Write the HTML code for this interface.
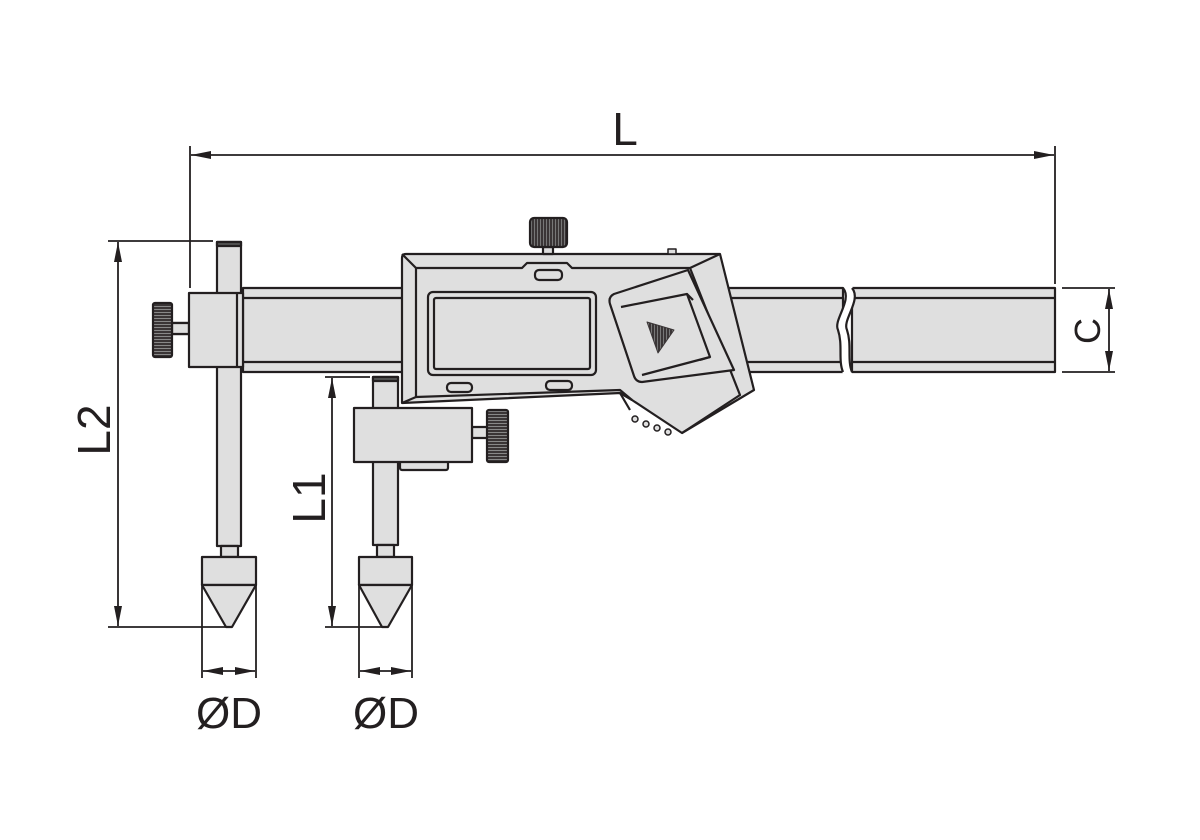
<!DOCTYPE html>
<html><head><meta charset="utf-8"><style>html,body{margin:0;padding:0;background:#fff}svg{display:block}</style></head><body>
<svg width="1200" height="840" viewBox="0 0 1200 840" xmlns="http://www.w3.org/2000/svg">
<defs>
<marker id="a" viewBox="0 0 20 10" refX="20" refY="5" markerWidth="20" markerHeight="10" markerUnits="userSpaceOnUse" orient="auto-start-reverse"><path d="M0,1 L20,5 L0,9 Z" fill="#231f20"/></marker>
<pattern id="kn" width="3" height="3" patternUnits="userSpaceOnUse"><rect width="3" height="3" fill="#3a3536"/><rect width="1" height="3" fill="#777"/></pattern>
<pattern id="kh" width="3" height="3" patternUnits="userSpaceOnUse"><rect width="3" height="3" fill="#3a3536"/><rect width="3" height="1" fill="#888"/></pattern>
</defs>
<g stroke="#231f20" stroke-width="2.2" fill="#dfdfdf" stroke-linejoin="round">
<!-- beam -->
<rect x="243" y="288" width="600" height="84"/>
<rect x="852" y="288" width="203" height="84"/>
<line x1="243" y1="298" x2="843" y2="298"/><line x1="243" y1="362" x2="843" y2="362"/>
<line x1="852" y1="298" x2="1055" y2="298"/><line x1="852" y1="362" x2="1055" y2="362"/>
<path d="M843,286 C853,300 833,320 838,330 C843,345 838,360 843,374 L852,374 C847,360 852,345 847,330 C842,318 862,300 852,286 Z" fill="#fff" stroke="none"/>
<path d="M843,288 C853,300 833,320 838,330 C843,345 838,360 843,372" fill="none"/>
<path d="M852,288 C862,300 842,320 847,330 C852,345 847,360 852,372" fill="none"/>
<!-- left jaw -->
<rect x="217" y="242" width="24" height="304"/>
<rect x="217" y="242" width="24" height="4" fill="#555"/>
<rect x="221" y="546" width="17" height="11"/>
<rect x="202" y="557" width="54" height="28"/>
<path d="M202,585 L256,585 L232,627 L226,627 Z"/>
<line x1="172" y1="323" x2="189" y2="323"/><line x1="172" y1="334" x2="189" y2="334"/>
<rect x="172" y="323" width="17" height="11"/>
<rect x="153" y="303" width="19" height="54" rx="2" fill="url(#kh)"/>
<rect x="189" y="293" width="54" height="74"/>
<line x1="237" y1="293" x2="237" y2="367"/>
<!-- right jaw -->
<rect x="373" y="377" width="25" height="168"/>
<rect x="373" y="377" width="25" height="4" fill="#555"/>
<rect x="377" y="545" width="17" height="12"/>
<rect x="359" y="557" width="53" height="28"/>
<path d="M359,585 L412,585 L388,627 L382,627 Z"/>
<!-- body -->
<path d="M402,258 Q402,254 406,254 L720,254 L754,390 L682,433 L632,400 L620,393 L402,403 Z"/>
<path d="M416,268 L522,268 L527,263 L567,263 L572,268 L690,268 L720,254" fill="none"/>
<line x1="402" y1="254" x2="416" y2="268"/><line x1="402" y1="403" x2="416" y2="397"/>
<line x1="416" y1="268" x2="416" y2="397"/>
<path d="M416,397 L620,390 L632,400" fill="none"/>
<path d="M690,268 L740,395 L682,433" fill="none"/>
<line x1="620" y1="393" x2="630" y2="410"/>
<rect x="535" y="270" width="27" height="10" rx="4"/>
<rect x="428" y="292" width="168" height="83" rx="5"/>
<rect x="434" y="298" width="156" height="71" rx="2"/>
<rect x="447" y="383" width="25" height="9" rx="4"/>
<rect x="546" y="381" width="26" height="9" rx="4"/>
<path d="M614,294 L688,270 L734,370 L642,382 Q636,382 634,376 L610,304 Q608,297 614,294 Z"/>
<path d="M621,307 L687,294 L710,357 L642,375" fill="none"/>
<line x1="687" y1="294" x2="693" y2="300"/><line x1="710" y1="357" x2="700" y2="360"/>
<path d="M647,322 L674,330 L658,353 Z" fill="url(#kn)" stroke="#3a3536" stroke-width="1"/>
<!-- top knob -->
<rect x="543" y="247" width="10" height="7"/>
<rect x="530" y="218" width="37" height="29" rx="4" fill="url(#kn)"/>
<rect x="668" y="249" width="8" height="5" stroke-width="1.5"/>
<!-- teeth -->
<g stroke-width="1.5"><circle cx="635" cy="419" r="3"/><circle cx="646" cy="424" r="3"/><circle cx="657" cy="428" r="3"/><circle cx="668" cy="432" r="3"/></g>
<!-- right jaw block -->
<rect x="400" y="455" width="48" height="15" rx="2"/>
<rect x="472" y="427" width="16" height="11"/>
<rect x="487" y="410" width="21" height="52" rx="2" fill="url(#kh)"/>
<rect x="354" y="408" width="118" height="54"/>
</g>
<!-- dimensions -->
<g stroke="#231f20" stroke-width="1.8" fill="none">
<line x1="190" y1="146" x2="190" y2="288"/>
<line x1="1055" y1="146" x2="1055" y2="284"/>
<line x1="191" y1="155" x2="1054" y2="155" marker-start="url(#a)" marker-end="url(#a)"/>
<line x1="1062" y1="288" x2="1115" y2="288"/><line x1="1062" y1="372" x2="1115" y2="372"/>
<line x1="1109" y1="289" x2="1109" y2="371" marker-start="url(#a)" marker-end="url(#a)"/>
<line x1="108" y1="241" x2="213" y2="241"/><line x1="108" y1="627" x2="228" y2="627"/>
<line x1="118" y1="242" x2="118" y2="626" marker-start="url(#a)" marker-end="url(#a)"/>
<line x1="325" y1="377" x2="370" y2="377"/><line x1="325" y1="627" x2="384" y2="627"/>
<line x1="332" y1="378" x2="332" y2="626" marker-start="url(#a)" marker-end="url(#a)"/>
<line x1="202" y1="585" x2="202" y2="678"/><line x1="256" y1="585" x2="256" y2="678"/>
<line x1="203" y1="671" x2="255" y2="671" marker-start="url(#a)" marker-end="url(#a)"/>
<line x1="359" y1="585" x2="359" y2="678"/><line x1="412" y1="585" x2="412" y2="678"/>
<line x1="360" y1="671" x2="411" y2="671" marker-start="url(#a)" marker-end="url(#a)"/>
</g>
<g font-family="Liberation Sans, Arial, sans-serif" fill="#231f20" text-anchor="middle">
<text x="625" y="145" font-size="46">L</text>
<text x="229" y="728" font-size="44">ØD</text>
<text x="386" y="728" font-size="44">ØD</text>
<text transform="translate(110,430) rotate(-90)" font-size="46">L2</text>
<text transform="translate(325,498) rotate(-90)" font-size="46">L1</text>
<text transform="translate(1100,331) rotate(-90)" font-size="36">C</text>
</g>
</svg>
</body></html>
